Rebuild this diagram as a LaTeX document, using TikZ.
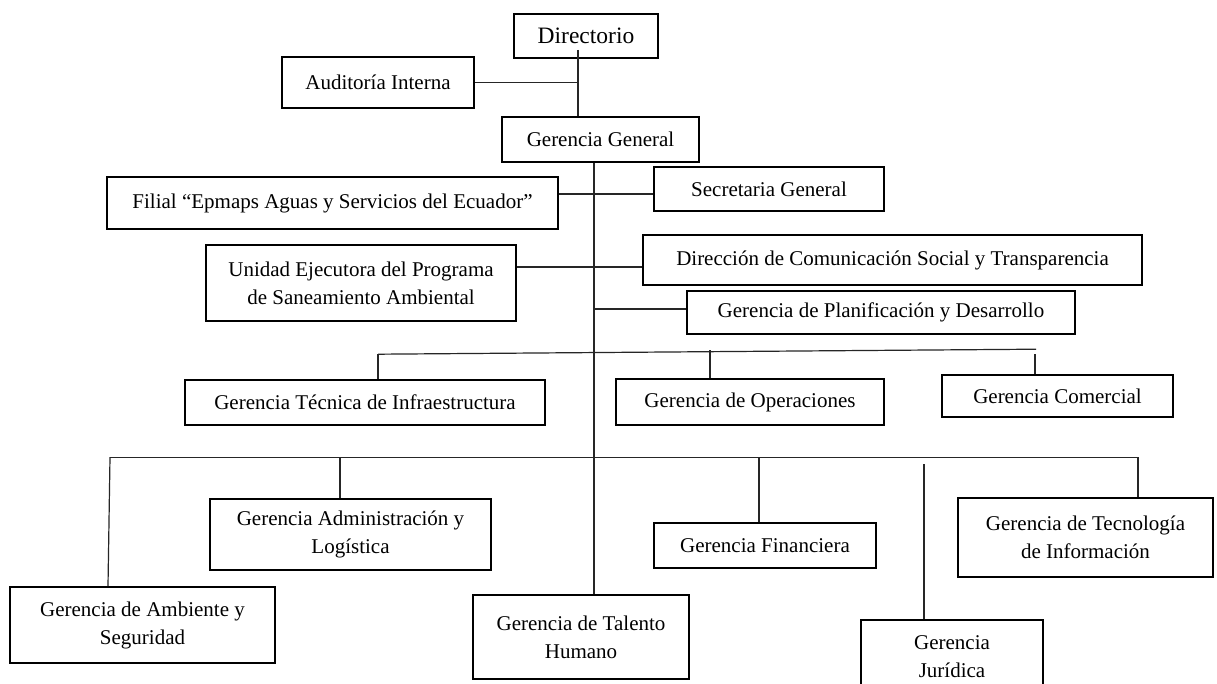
\documentclass[tikz,border=0pt]{standalone}
\usepackage{fontspec}
\setmainfont{Liberation Serif}
\begin{document}
\begin{tikzpicture}[x=1pt,y=-1pt,
  orgbox/.style={draw=black,line width=1.6pt,fill=white,inner sep=0pt,align=center,
    font=\fontsize{21}{28}\selectfont},
  link/.style={draw=black!85,line width=1.2pt}]
\useasboundingbox (0,0) rectangle (1217,684);
\fill[white] (0,0) rectangle (1217,684);
\clip (0,0) rectangle (1217,684);

% nodes
\node[orgbox,minimum width=144pt,minimum height=44pt,font=\fontsize{23.5}{28}\selectfont] (dir) at (586,36) {Directorio};
\node[orgbox,minimum width=192pt,minimum height=51pt] (aud) at (378,82.5) {Auditoría Interna};
\node[orgbox,minimum width=197pt,minimum height=45pt] (gg) at (600.5,139.5) {Gerencia General};
\node[orgbox,minimum width=451pt,minimum height=52pt] (fil) at (332.5,203) {Filial “Epmaps Aguas y Servicios del Ecuador”};
\node[orgbox,minimum width=230pt,minimum height=44pt] (sec) at (769,189) {Secretaria General};
\node[orgbox,minimum width=310pt,minimum height=76pt] (uni) at (361,283) {Unidad Ejecutora del Programa\\de Saneamiento Ambiental};
\node[orgbox,minimum width=499pt,minimum height=50pt] (dcs) at (892.5,260) {Dirección de Comunicación Social y Transparencia};
\node[orgbox,minimum width=388pt,minimum height=43pt] (pla) at (881,312.5) {Gerencia de Planificación y Desarrollo};
\node[orgbox,minimum width=360pt,minimum height=45pt] (tec) at (365,402.5) {Gerencia Técnica de Infraestructura};
\node[orgbox,minimum width=268pt,minimum height=46pt] (ope) at (750,402) {Gerencia de Operaciones};
\node[orgbox,minimum width=231pt,minimum height=42pt] (com) at (1057.5,396) {Gerencia Comercial};
\node[orgbox,minimum width=281pt,minimum height=71pt] (adm) at (350.5,534.5) {Gerencia Administración y\\Logística};
\node[orgbox,minimum width=222pt,minimum height=45pt] (fin) at (765,545.5) {Gerencia Financiera};
\node[orgbox,minimum width=255pt,minimum height=79pt] (tic) at (1085.5,537.5) {Gerencia de Tecnología\\de Información};
\node[orgbox,minimum width=265pt,minimum height=76pt] (amb) at (142.5,625) {Gerencia de Ambiente y\\Seguridad};
\node[orgbox,minimum width=216pt,minimum height=84pt] (tal) at (581,637) {Gerencia de Talento\\Humano};
\node[orgbox,minimum width=182pt,minimum height=74pt] (jur) at (952,657) {Gerencia\\Jurídica};

% top connectors
\coordinate (trA) at ([xshift=-8pt,yshift=9pt]dir.south);
\coordinate (trB) at ([xshift=-8pt]dir.south);
\draw[link] (trA) -- (trB |- gg.north);
\draw[link] (aud.east) -- (aud.east -| trB);
\draw[link] ([xshift=-6.5pt]gg.south) -- ([xshift=13pt]tal.north);
\draw[link] ([yshift=9pt]fil.east) -- ([yshift=-5pt]sec.west);
\draw[link] ([yshift=16pt]uni.east) -- ([yshift=-7pt]dcs.west);
\draw[link] ([yshift=3.5pt]pla.west) -- ++(-91,0) coordinate (plaend);

% first row bus
\coordinate (busL) at ([xshift=13pt,yshift=25pt]tec.north);
\coordinate (busR) at ([xshift=-21.5pt,yshift=25pt]com.north);
\draw[link] (busL) -- (busR);
\draw[link] (busL) -- ([xshift=13pt]tec.north);
\draw[link] ([xshift=-40pt]ope.north) -- ++(0,-28);
\draw[link] ([xshift=-22.5pt]com.north) -- ++(0,-20);

% second row bus
\coordinate (bus2L) at ([xshift=-32.5pt,yshift=129pt]amb.north);
\coordinate (bus2R) at ([xshift=52.5pt,yshift=40pt]tic.north);
\draw[link] (bus2L) -- (bus2R) -- ([xshift=52.5pt]tic.north);
\draw[link] (bus2L) -- ([xshift=-34.5pt]amb.north);
\draw[link] ([xshift=-10.5pt]adm.north) -- ++(0,-41);
\draw[link] ([xshift=-6pt]fin.north) -- ++(0,-65);
\draw[link] ([xshift=-28pt]jur.north) -- ++(0,-155);
\end{tikzpicture}
\end{document}
